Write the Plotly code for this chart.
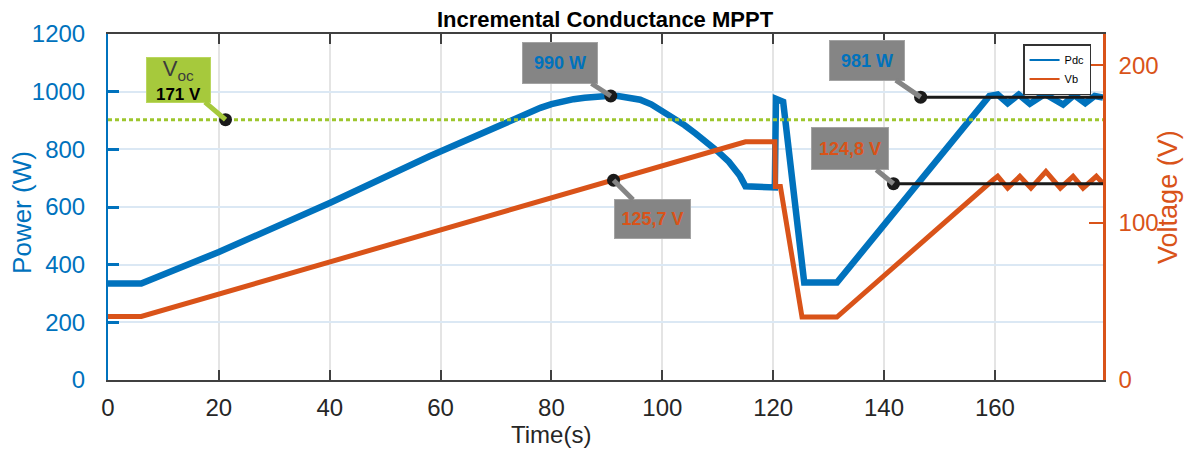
import plotly.graph_objects as go

# ---------------- data ----------------
t_pdc = [0, 6, 20, 40, 58, 70, 74, 76, 78, 80, 82, 84, 86, 88, 90, 92, 94, 96, 98, 100,
         102, 104, 106, 108, 110, 112, 114, 115,
         120.3, 120.5, 121.8, 125.6, 131.5, 159, 160.5, 162.3, 164.3, 166.3,
         169, 172.3, 174.3, 176.3, 178, 179.5]
p_dc = [335, 335, 444, 614, 776, 880, 912, 928, 944, 957, 967, 974, 979, 983, 985, 985, 981, 972, 956, 934,
        910, 884, 855, 825, 793, 757, 708, 672,
        668, 975, 965, 338, 338, 985, 990, 960, 990, 958,
        992, 955, 988, 960, 985, 980]

t_vb = [0, 6, 115, 120.3, 120.4, 121.3, 125.2, 131.5, 159.6, 160.5, 162.3,
        164.5, 166.5, 169.2, 171.8, 174.1, 175.9, 178.3, 179.5]
v_b = [40.4, 40.4, 151.5, 151.5, 123, 123, 40, 40, 127, 129.5, 122,
       129.5, 122, 132.5, 122, 129.5, 122, 129.5, 125]

x_range = [0, 179.5]
voc_level = 165.5          # dotted reference line (right axis)
voc_label = "171 V"
voc_t = 21.2

p_peak_t, p_peak, p_peak_label = 90.7, 985, "990 W"
p_ss_t, p_ss, p_ss_label = 146.6, 981, "981 W"
v_ss_t, v_ss, v_ss_label = 141.7, 124.8, "124,8 V"
v_pk_t, v_pk, v_pk_label = 91.2, 127, "125,7 V"

x_ticks = [0, 20, 40, 60, 80, 100, 120, 140, 160]
y_ticks = [0, 200, 400, 600, 800, 1000, 1200]
y2_ticks = [0, 100, 200]

BLUE = "#0072BD"
ORANGE = "#D95319"
GREEN = "#9DC62D"
DARK = "#1a1a1a"
FONT = "Liberation Sans, Arial, Helvetica, sans-serif"

fig = go.Figure()

# Voc dotted line
fig.add_trace(go.Scatter(x=x_range, y=[voc_level, voc_level], yaxis="y2", mode="lines",
                         line=dict(color=GREEN, width=3, dash="4px,3px"),
                         showlegend=False, hoverinfo="skip"))

# main curves
fig.add_trace(go.Scatter(x=t_pdc, y=p_dc, mode="lines", name="Pdc",
                         line=dict(color=BLUE, width=6.5), showlegend=False))
fig.add_trace(go.Scatter(x=t_vb, y=v_b, mode="lines", name="Vb", yaxis="y2",
                         line=dict(color=ORANGE, width=5), showlegend=False))

# steady-state marker lines
fig.add_trace(go.Scatter(x=[p_ss_t, x_range[1]], y=[p_ss, p_ss], mode="lines",
                         line=dict(color=DARK, width=3), showlegend=False, hoverinfo="skip"))
fig.add_trace(go.Scatter(x=[v_ss_t, x_range[1]], y=[v_ss, v_ss], yaxis="y2", mode="lines",
                         line=dict(color=DARK, width=3), showlegend=False, hoverinfo="skip"))

# dots
fig.add_trace(go.Scatter(x=[p_peak_t, p_ss_t], y=[p_peak, p_ss], mode="markers",
                         marker=dict(color=DARK, size=13), showlegend=False))
fig.add_trace(go.Scatter(x=[voc_t, v_ss_t, v_pk_t], y=[voc_level, v_ss, v_pk], yaxis="y2",
                         mode="markers", marker=dict(color=DARK, size=13), showlegend=False))

# legend entries
fig.add_trace(go.Scatter(x=[None], y=[None], mode="lines", name="Pdc",
                         line=dict(color=BLUE, width=2)))
fig.add_trace(go.Scatter(x=[None], y=[None], mode="lines", name="Vb", yaxis="y2",
                         line=dict(color=ORANGE, width=2)))

GRAY_BOX = "#858585"
GRAY_BORDER = "#a3a3a3"


def callout(x, y, yref, text, ax, ay, w, h, bg=GRAY_BOX, border=GRAY_BORDER):
    return dict(x=x, y=y, xref="x", yref=yref, text=text, showarrow=True,
                ax=ax, ay=ay, axref="pixel", ayref="pixel",
                arrowhead=0, arrowwidth=5, arrowcolor=bg, standoff=0,
                bgcolor=bg, bordercolor=border, borderwidth=1, borderpad=2,
                width=w, height=h, align="center", valign="middle",
                font=dict(family=FONT, size=18))


annotations = [
    callout(voc_t, voc_level, "y2",
            "<span style='font-size:22px;color:#3c3c3c'>V<sub>oc</sub></span><br>"
            "<b><span style='font-size:17px;color:#000'>" + voc_label + "</span></b>",
            -47, -40, 59, 40, bg="#a6c93c", border="#bad75e"),
    callout(p_peak_t, p_peak, "y",
            "<b><span style='color:%s'>%s</span></b>" % (BLUE, p_peak_label),
            -51, -33, 70, 36),
    callout(p_ss_t, p_ss, "y",
            "<b><span style='color:%s'>%s</span></b>" % (BLUE, p_ss_label),
            -54, -37, 70, 35),
    callout(v_ss_t, v_ss, "y2",
            "<b><span style='color:%s'>%s</span></b>" % (ORANGE, v_ss_label),
            -43, -35, 72, 37),
    callout(v_pk_t, v_pk, "y2",
            "<b><span style='color:%s'>%s</span></b>" % (ORANGE, v_pk_label),
            39, 39, 71, 34),
    # axis titles
    dict(text="Power (W)", xref="paper", yref="paper", x=-0.0864, y=0.483,
         xanchor="center", yanchor="middle",
         textangle=-90, showarrow=False, font=dict(family=FONT, size=26, color=BLUE)),
    dict(text="Voltage (V)", xref="paper", yref="paper", x=1.0653, y=0.529,
         xanchor="center", yanchor="middle",
         textangle=-90, showarrow=False, font=dict(family=FONT, size=27, color=ORANGE)),
    dict(text="Time(s)", xref="paper", yref="paper", x=0.445, y=-0.158,
         xanchor="center", yanchor="middle",
         showarrow=False, font=dict(family=FONT, size=24, color="#262626")),
]

fig.update_layout(
    width=1187, height=451,
    margin=dict(l=108, r=84, t=34, b=71),
    paper_bgcolor="white", plot_bgcolor="white",
    title=dict(text="<b>Incremental Conductance MPPT</b>", x=0.5097, xanchor="center",
               y=0.958, yanchor="middle", font=dict(family=FONT, size=22, color="#000")),
    xaxis=dict(range=x_range, tickvals=x_ticks, showgrid=True, gridcolor="#e4e4e4", gridwidth=2,
               showline=True, linecolor="#404040", linewidth=2, mirror="ticks",
               ticks="inside", ticklen=10, tickwidth=2, tickcolor="#404040",
               tickfont=dict(family=FONT, size=24, color="#262626"),
               ticklabelstandoff=5, zeroline=False),
    yaxis=dict(range=[0, 1200], tickvals=y_ticks, showgrid=True, gridcolor="#dbe8f4", gridwidth=2,
               showline=True, linecolor=BLUE, linewidth=2, ticks="inside", ticklen=11,
               tickwidth=3, tickcolor=BLUE,
               tickfont=dict(family=FONT, size=24, color=BLUE),
               ticklabelstandoff=16, zeroline=False),
    yaxis2=dict(range=[0, 220], tickvals=y2_ticks, overlaying="y", side="right", showgrid=False,
                showline=True, linecolor=ORANGE, linewidth=2.5, ticks="inside", ticklen=14,
                tickwidth=1.5, tickcolor=ORANGE,
                tickfont=dict(family=FONT, size=24, color=ORANGE),
                ticklabelstandoff=8, zeroline=False),
    legend=dict(x=0.988, xanchor="right", y=0.971, yanchor="top", bgcolor="white",
                bordercolor="#333333", borderwidth=1.5, font=dict(family=FONT, size=11, color="#000"),
                itemwidth=30, tracegroupgap=0),
    annotations=annotations,
    showlegend=True,
)

fig.write_html("out.html", config={"displayModeBar": False},
               post_script="document.body.style.margin='0px';document.body.style.padding='0px';")
